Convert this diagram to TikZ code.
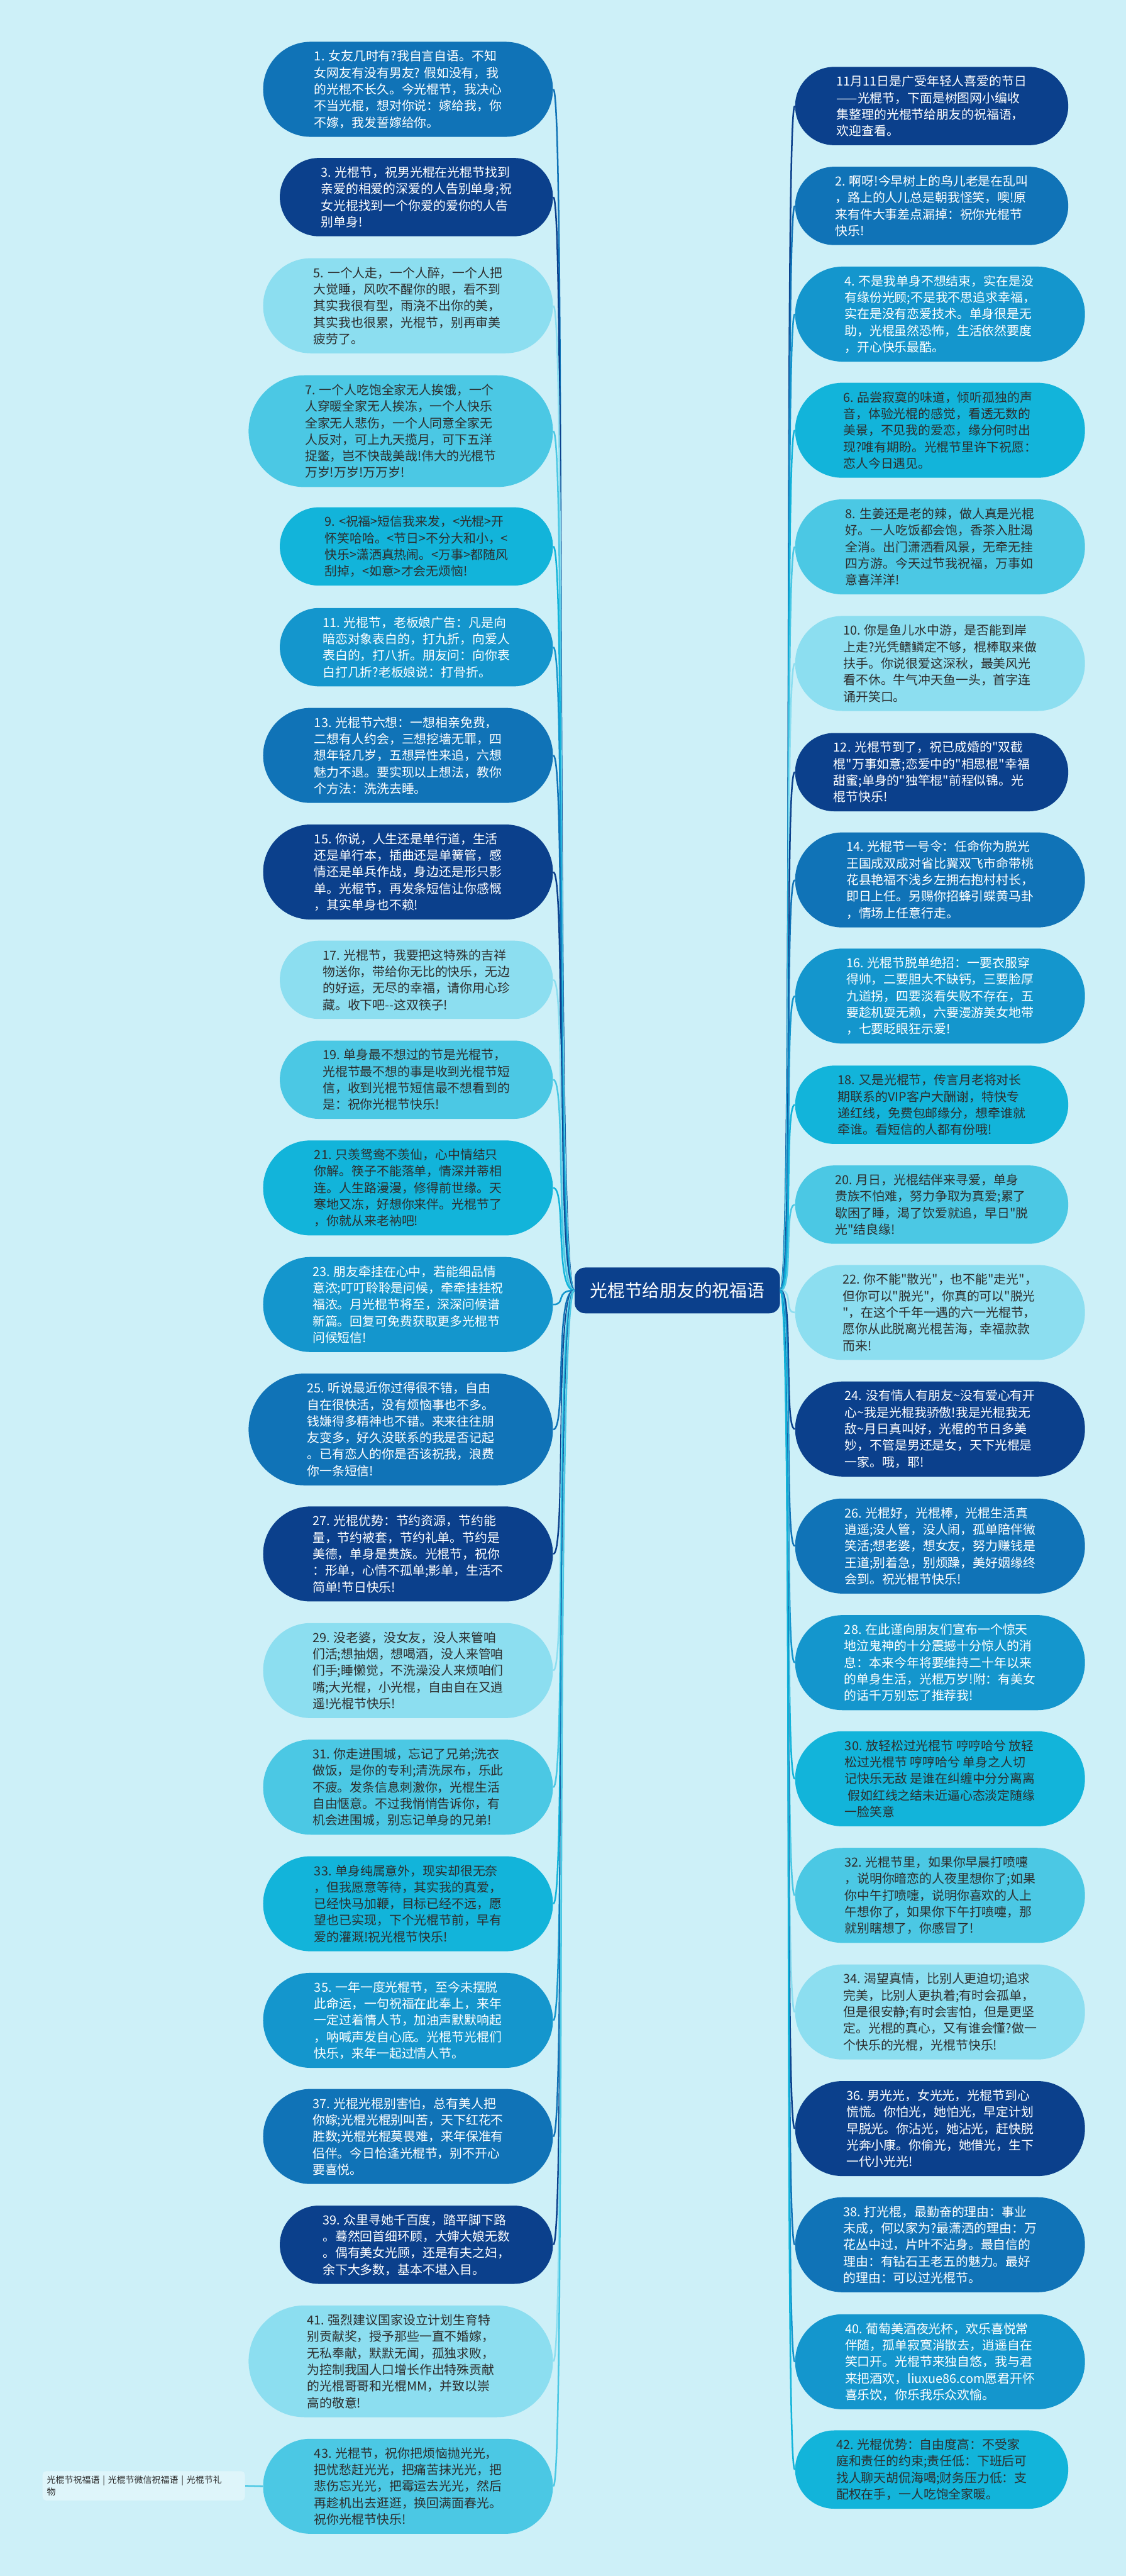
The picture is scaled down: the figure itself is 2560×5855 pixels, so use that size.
\documentclass[tikz,border=0pt]{standalone}
\usepackage{fontspec}
\newfontfamily\cjk{Noto Sans CJK SC}
\usetikzlibrary{shapes.misc}

\definecolor{bgc}{RGB}{205,240,248}
\definecolor{navyc}{RGB}{11,64,140}
\definecolor{medc}{RGB}{16,115,183}
\definecolor{bluec}{RGB}{20,150,205}
\definecolor{cyanc}{RGB}{18,180,218}
\definecolor{lightc}{RGB}{75,200,228}
\definecolor{palec}{RGB}{140,222,240}
\definecolor{darktext}{RGB}{45,45,45}
\definecolor{notefill}{RGB}{222,245,250}

\begin{document}
\begin{tikzpicture}[x=0.25pt, y=-0.25pt,
    pill/.style={rounded rectangle, inner sep=0pt, align=left,
        font=\cjk\fontsize{7.1}{9.4}\selectfont},
    four/.style={minimum width=155.25pt, minimum height=44.5pt},
    five/.style={minimum width=164.75pt, minimum height=54pt},
    six/.style={minimum width=173pt, minimum height=63.5pt},
    lnode/.style={pill, anchor=east},
    rnode/.style={pill, anchor=west},
    navyfill/.style={fill=navyc, text=white},
    medfill/.style={fill=medc, text=white},
    bluefill/.style={fill=bluec, text=white},
    cyanfill/.style={fill=cyanc, text=darktext},
    lightfill/.style={fill=lightc, text=darktext},
    palefill/.style={fill=palec, text=darktext},
    link/.style={line width=0.9pt}
]
\fill[bgc] (0,0) rectangle (2560,5855);
\useasboundingbox (0,0) rectangle (2560,5855);

% centre
\node[fill=navyc, text=white, rounded corners=6pt, minimum width=116.75pt,
      minimum height=26pt, font=\cjk\fontsize{9.9}{12}\selectfont]
      (ctr) at (1540,2933) {光棍节给朋友的祝福语};

% left branch
\node[lnode, five, medfill] (l1) at (1258,203) {1. 女友几时有?我自言自语。不知\\女网友有没有男友? 假如没有，我\\的光棍不长久。今光棍节，我决心\\不当光棍，想对你说：嫁给我，你\\不嫁，我发誓嫁给你。};
\node[lnode, four, navyfill] (l3) at (1258,448) {3. 光棍节，祝男光棍在光棍节找到\\亲爱的相爱的深爱的人告别单身;祝\\女光棍找到一个你爱的爱你的人告\\别单身!};
\node[lnode, five, palefill] (l5) at (1258,695) {5. 一个人走，一个人醉，一个人把\\大觉睡，风吹不醒你的眼，看不到\\其实我很有型，雨浇不出你的美，\\其实我也很累，光棍节，别再审美\\疲劳了。};
\node[lnode, six, lightfill] (l7) at (1258,980) {7. 一个人吃饱全家无人挨饿，一个\\人穿暖全家无人挨冻，一个人快乐\\全家无人悲伤，一个人同意全家无\\人反对，可上九天揽月，可下五洋\\捉鳖，岂不快哉美哉!伟大的光棍节\\万岁!万岁!万万岁!};
\node[lnode, four, cyanfill] (l9) at (1258,1242) {9. <祝福>短信我来发，<光棍>开\\怀笑哈哈。<节日>不分大和小，<\\快乐>潇洒真热闹。<万事>都随风\\刮掉，<如意>才会无烦恼!};
\node[lnode, four, bluefill] (l11) at (1258,1471) {11. 光棍节，老板娘广告：凡是向\\暗恋对象表白的，打九折，向爱人\\表白的，打八折。朋友问：向你表\\白打几折?老板娘说：打骨折。};
\node[lnode, five, medfill] (l13) at (1258,1717) {13. 光棍节六想：一想相亲免费，\\二想有人约会，三想挖墙无罪，四\\想年轻几岁，五想异性来追，六想\\魅力不退。要实现以上想法，教你\\个方法：洗洗去睡。};
\node[lnode, five, navyfill] (l15) at (1258,1982) {15. 你说，人生还是单行道，生活\\还是单行本，插曲还是单簧管，感\\情还是单兵作战，身边还是形只影\\单。光棍节，再发条短信让你感慨\\，其实单身也不赖!};
\node[lnode, four, palefill] (l17) at (1258,2227) {17. 光棍节，我要把这特殊的吉祥\\物送你，带给你无比的快乐，无边\\的好运，无尽的幸福，请你用心珍\\藏。收下吧--这双筷子!};
\node[lnode, four, lightfill] (l19) at (1258,2454) {19. 单身最不想过的节是光棍节，\\光棍节最不想的事是收到光棍节短\\信，收到光棍节短信最不想看到的\\是：祝你光棍节快乐!};
\node[lnode, five, cyanfill] (l21) at (1258,2700) {21. 只羡鸳鸯不羡仙，心中情结只\\你解。筷子不能落单，情深并蒂相\\连。人生路漫漫，修得前世缘。天\\寒地又冻，好想你来伴。光棍节了\\，你就从来老衲吧!};
\node[lnode, five, bluefill] (l23) at (1258,2965) {23. 朋友牵挂在心中，若能细品情\\意浓;叮叮聆聆是问候，牵牵挂挂祝\\福浓。月光棍节将至，深深问候谱\\新篇。回复可免费获取更多光棍节\\问候短信!};
\node[lnode, six, medfill] (l25) at (1258,3249) {25. 听说最近你过得很不错，自由\\自在很快活，没有烦恼事也不多。\\钱嫌得多精神也不错。来来往往朋\\友变多，好久没联系的我是否记起\\。已有恋人的你是否该祝我，浪费\\你一条短信!};
\node[lnode, five, navyfill] (l27) at (1258,3532) {27. 光棍优势：节约资源，节约能\\量，节约被套，节约礼单。节约是\\美德，单身是贵族。光棍节，祝你\\：形单，心情不孤单;影单，生活不\\简单!节日快乐!};
\node[lnode, five, palefill] (l29) at (1258,3797) {29. 没老婆，没女友，没人来管咱\\们活;想抽烟，想喝酒，没人来管咱\\们手;睡懒觉，不洗澡没人来烦咱们\\嘴;大光棍，小光棍，自由自在又逍\\遥!光棍节快乐!};
\node[lnode, five, lightfill] (l31) at (1258,4062) {31. 你走进围城，忘记了兄弟;洗衣\\做饭，是你的专利;清洗尿布，乐此\\不疲。发条信息刺激你，光棍生活\\自由惬意。不过我悄悄告诉你，有\\机会进围城，别忘记单身的兄弟!};
\node[lnode, five, cyanfill] (l33) at (1258,4327) {33. 单身纯属意外，现实却很无奈\\，但我愿意等待，其实我的真爱，\\已经快马加鞭，目标已经不远，愿\\望也已实现，下个光棍节前，早有\\爱的灌溉!祝光棍节快乐!};
\node[lnode, five, bluefill] (l35) at (1258,4592) {35. 一年一度光棍节，至今未摆脱\\此命运，一句祝福在此奉上，来年\\一定过着情人节，加油声默默响起\\，呐喊声发自心底。光棍节光棍们\\快乐，来年一起过情人节。};
\node[lnode, five, medfill] (l37) at (1258,4856) {37. 光棍光棍别害怕，总有美人把\\你嫁;光棍光棍别叫苦，天下红花不\\胜数;光棍光棍莫畏难，来年保准有\\侣伴。今日恰逢光棍节，别不开心\\要喜悦。};
\node[lnode, four, navyfill] (l39) at (1258,5102) {39. 众里寻她千百度，踏平脚下路\\。蓦然回首细环顾，大婶大娘无数\\。偶有美女光顾，还是有夫之妇，\\余下大多数，基本不堪入目。};
\node[lnode, six, palefill] (l41) at (1258,5367) {41. 强烈建议国家设立计划生育特\\别贡献奖，授予那些一直不婚嫁，\\无私奉献，默默无闻，孤独求败，\\为控制我国人口增长作出特殊贡献\\的光棍哥哥和光棍MM，并致以崇\\高的敬意!};
\node[lnode, five, lightfill] (l43) at (1258,5651) {43. 光棍节，祝你把烦恼抛光光，\\把忧愁赶光光，把痛苦抹光光，把\\悲伤忘光光，把霉运去光光，然后\\再趁机出去逛逛，换回满面春光。\\祝你光棍节快乐!};

% right branch
\node[rnode, four, navyfill] (r0) at (1807,241) {11月11日是广受年轻人喜爱的节日\\——光棍节，下面是树图网小编收\\集整理的光棍节给朋友的祝福语，\\欢迎查看。};
\node[rnode, four, medfill] (r2) at (1807,468) {2. 啊呀!今早树上的鸟儿老是在乱叫\\，路上的人儿总是朝我怪笑，噢!原\\来有件大事差点漏掉：祝你光棍节\\快乐!};
\node[rnode, five, bluefill] (r4) at (1807,714) {4. 不是我单身不想结束，实在是没\\有缘份光顾;不是我不思追求幸福，\\实在是没有恋爱技术。单身很是无\\助，光棍虽然恐怖，生活依然要度\\，开心快乐最酷。};
\node[rnode, five, cyanfill] (r6) at (1807,978) {6. 品尝寂寞的味道，倾听孤独的声\\音，体验光棍的感觉，看透无数的\\美景，不见我的爱恋，缘分何时出\\现?唯有期盼。光棍节里许下祝愿：\\恋人今日遇见。};
\node[rnode, five, lightfill] (r8) at (1807,1243) {8. 生姜还是老的辣，做人真是光棍\\好。一人吃饭都会饱，香茶入肚渴\\全消。出门潇洒看风景，无牵无挂\\四方游。今天过节我祝福，万事如\\意喜洋洋!};
\node[rnode, five, palefill] (r10) at (1807,1508) {10. 你是鱼儿水中游，是否能到岸\\上走?光凭鳍鳞定不够，棍棒取来做\\扶手。你说很爱这深秋，最美风光\\看不休。牛气冲天鱼一头，首字连\\诵开笑口。};
\node[rnode, four, navyfill] (r12) at (1807,1755) {12. 光棍节到了，祝已成婚的"双截\\棍"万事如意;恋爱中的"相思棍"幸福\\甜蜜;单身的"独竿棍"前程似锦。光\\棍节快乐!};
\node[rnode, five, medfill] (r14) at (1807,2000) {14. 光棍节一号令：任命你为脱光\\王国成双成对省比翼双飞市命带桃\\花县艳福不浅乡左拥右抱村村长，\\即日上任。另赐你招蜂引蝶黄马卦\\，情场上任意行走。};
\node[rnode, five, bluefill] (r16) at (1807,2264) {16. 光棍节脱单绝招：一要衣服穿\\得帅，二要胆大不缺钙，三要脸厚\\九道拐，四要淡看失败不存在，五\\要趁机耍无赖，六要漫游美女地带\\，七要眨眼狂示爱!};
\node[rnode, four, cyanfill] (r18) at (1807,2511) {18. 又是光棍节，传言月老将对长\\期联系的VIP客户大酬谢，特快专\\递红线，免费包邮缘分，想牵谁就\\牵谁。看短信的人都有份哦!};
\node[rnode, four, lightfill] (r20) at (1807,2738) {20. 月日，光棍结伴来寻爱，单身\\贵族不怕难，努力争取为真爱;累了\\歇困了睡，渴了饮爱就追，早日"脱\\光"结良缘!};
\node[rnode, five, palefill] (r22) at (1807,2983) {22. 你不能"散光"，也不能"走光"，\\但你可以"脱光"，你真的可以"脱光\\"，在这个千年一遇的六一光棍节，\\愿你从此脱离光棍苦海，幸福款款\\而来!};
\node[rnode, five, navyfill] (r24) at (1807,3248) {24. 没有情人有朋友\textasciitilde 没有爱心有开\\心\textasciitilde 我是光棍我骄傲!我是光棍我无\\敌\textasciitilde 月日真叫好，光棍的节日多美\\妙，不管是男还是女，天下光棍是\\一家。哦，耶!};
\node[rnode, five, medfill] (r26) at (1807,3514) {26. 光棍好，光棍棒，光棍生活真\\逍遥;没人管，没人闹，孤单陪伴微\\笑活;想老婆，想女友，努力赚钱是\\王道;别着急，别烦躁，美好姻缘终\\会到。祝光棍节快乐!};
\node[rnode, five, bluefill] (r28) at (1807,3779) {28. 在此谨向朋友们宣布一个惊天\\地泣鬼神的十分震撼十分惊人的消\\息：本来今年将要维持二十年以来\\的单身生活，光棍万岁!附：有美女\\的话千万别忘了推荐我!};
\node[rnode, five, cyanfill] (r30) at (1807,4043) {30. 放轻松过光棍节 哼哼哈兮 放轻\\松过光棍节 哼哼哈兮 单身之人切\\记快乐无敌 是谁在纠缠中分分离离\\\ 假如红线之结未近逼心态淡定随缘\\一脸笑意};
\node[rnode, five, lightfill] (r32) at (1807,4308) {32. 光棍节里，如果你早晨打喷嚏\\，说明你暗恋的人夜里想你了;如果\\你中午打喷嚏，说明你喜欢的人上\\午想你了，如果你下午打喷嚏，那\\就别瞎想了，你感冒了!};
\node[rnode, five, palefill] (r34) at (1807,4573) {34. 渴望真情，比别人更迫切;追求\\完美，比别人更执着;有时会孤单，\\但是很安静;有时会害怕，但是更坚\\定。光棍的真心，又有谁会懂?做一\\个快乐的光棍，光棍节快乐!};
\node[rnode, five, navyfill] (r36) at (1807,4838) {36. 男光光，女光光，光棍节到心\\慌慌。你怕光，她怕光，早定计划\\早脱光。你沾光，她沾光，赶快脱\\光奔小康。你偷光，她借光，生下\\一代小光光!};
\node[rnode, five, medfill] (r38) at (1807,5102) {38. 打光棍，最勤奋的理由：事业\\未成，何以家为?最潇洒的理由：万\\花丛中过，片叶不沾身。最自信的\\理由：有钻石王老五的魅力。最好\\的理由：可以过光棍节。};
\node[rnode, five, bluefill] (r40) at (1807,5368) {40. 葡萄美酒夜光杯，欢乐喜悦常\\伴随，孤单寂寞消散去，逍遥自在\\笑口开。光棍节来独自悠，我与君\\来把酒欢，liuxue86.com愿君开怀\\喜乐饮，你乐我乐众欢愉。};
\node[rnode, four, cyanfill] (r42) at (1807,5613) {42. 光棍优势：自由度高：不受家\\庭和责任的约束;责任低：下班后可\\找人聊天胡侃海喝;财务压力低：支\\配权在手，一人吃饱全家暖。};

% note
\node[fill=notefill, rounded corners=2pt, anchor=west, text width=110pt,
      inner sep=2.5pt, align=left, text=darktext,
      font=\cjk\fontsize{5}{7}\selectfont]
      (tags) at (96,5650) {光棍节祝福语 | 光棍节微信祝福语 | 光棍节礼\\物};

% links
\foreach \n/\c in {l1/medc, l3/navyc, l5/palec, l7/lightc, l9/cyanc, l11/bluec,
    l13/medc, l15/navyc, l17/palec, l19/lightc, l21/cyanc, l23/bluec,
    l25/medc, l27/navyc, l29/palec, l31/lightc, l33/cyanc, l35/bluec,
    l37/medc, l39/navyc, l41/palec, l43/lightc}
  \draw[link, draw=\c] (ctr.west) .. controls +(-45,0) and +(30,0) .. (\n.east);
\foreach \n/\c in {r0/navyc, r2/medc, r4/bluec, r6/cyanc, r8/lightc, r10/palec,
    r12/navyc, r14/medc, r16/bluec, r18/cyanc, r20/lightc, r22/palec,
    r24/navyc, r26/medc, r28/bluec, r30/cyanc, r32/lightc, r34/palec,
    r36/navyc, r38/medc, r40/bluec, r42/cyanc}
  \draw[link, draw=\c] (ctr.east) .. controls +(30,0) and +(-25,0) .. (\n.west);
\draw[link, draw=lightc] (tags.east) -- (l43.west);
\end{tikzpicture}
\end{document}
